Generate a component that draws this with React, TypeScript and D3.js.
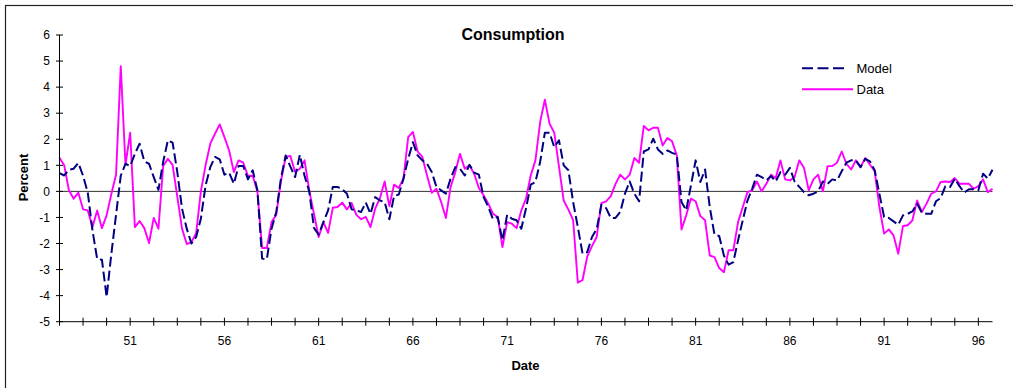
import React from "react";
import * as d3 from "d3";

const modelValues: number[] = [
  0.70, 0.61, 0.83, 0.87, 1.09, 0.6, -0.05, -1.5, -2.6, -2.62,
  -4.05, -2.4, -0.9, 0.6, 1.06, 0.97, 1.44, 1.83, 1.15, 1.06,
  0.55, 0.06, 1.13, 1.96, 1.87, 0.74, -0.66, -1.43, -2.0, -1.75,
  -1.05, 0.23, 0.93, 1.32, 1.23, 0.64, 0.72, 0.29, 0.97, 0.97,
  0.46, 0.81, 0.04, -2.58, -2.6, -1.43, -0.79, 0.5, 1.38, 0.95,
  0.55, 1.4, 0.6, 0.0, -1.4, -1.66, -1.18, -0.73, 0.17, 0.17,
  0.08, -0.09, -0.69, -0.73, -0.79, -0.43, -0.86, -0.22, -0.35, -0.41,
  -1.07, -0.18, -0.12, 0.49, 1.25, 1.89, 1.38, 1.19, 1.06, 0.74,
  0.17, 0.04, -0.09, 0.49, 0.93, 0.87, 0.61, 1.02, 0.72, 0.64,
  -0.22, -0.6, -1.07, -0.98, -1.88, -0.9, -1.05, -1.11, -1.43, -0.66,
  0.26, 0.36, 1.13, 2.25, 2.25, 1.7, 1.96, 1.0, 0.81, -0.41,
  -1.37, -2.39, -2.33, -1.75, -1.45, -0.51, -0.64, -1.02, -1.02, -0.79,
  -0.09, 0.38, -0.09, -0.38, 1.53, 1.61, 2.02, 1.61, 1.44, 1.57,
  1.48, 1.41, -0.41, -0.73, 0.23, 1.19, 0.36, 0.84, -0.6, -1.66,
  -1.71, -2.46, -2.81, -2.71, -1.88, -1.11, -0.35, 0.1, 0.64, 0.55,
  0.42, 0.59, 0.38, 0.74, 0.64, 0.9, 0.38, 0.17, -0.03, -0.15,
  -0.09, 0.0, 0.38, 0.29, 0.46, 0.42, 0.77, 1.1, 1.19, 1.19,
  0.93, 1.25, 1.15, 0.81, -0.1, -0.98, -1.02, -1.15, -1.28, -0.92,
  -0.86, -0.77, -0.47, -0.82, -0.86, -0.86, -0.38, -0.26, 0.2, 0.17,
  0.49, 0.2, -0.05, 0.08, 0.08, 0.04, 0.68, 0.49, 0.83,
];

const dataValues: number[] = [
  1.29, 1.0, 0.04, -0.28, -0.05, -0.69, -0.73, -1.37, -0.73, -1.41,
  -0.92, -0.1, 0.64, 4.8, 1.02, 2.25, -1.37, -1.14, -1.41, -1.98,
  -1.02, -1.43, 0.97, 1.25, 1.02, -0.2, -1.43, -2.02, -1.95, -1.6,
  0.0, 1.0, 1.83, 2.21, 2.57, 2.08, 1.57, 0.74, 1.19, 1.1,
  0.59, 0.6, 0.0, -2.17, -2.17, -1.18, -0.9, 0.4, 1.32, 1.36,
  0.74, 0.87, 1.19, 0.04, -0.86, -1.75, -1.18, -1.59, -0.63, -0.6,
  -0.43, -0.69, -0.45, -0.9, -1.07, -0.98, -1.37, -0.66, -0.26, 0.38,
  -0.56, 0.26, 0.13, 0.49, 2.08, 2.28, 1.53, 1.32, 0.61, -0.05,
  0.1, -0.41, -1.02, 0.17, 0.74, 1.44, 0.87, 1.0, 0.68, 0.13,
  -0.15, -0.47, -0.86, -0.98, -2.14, -1.18, -1.24, -1.41, -0.73, -0.28,
  0.61, 1.19, 2.66, 3.52, 2.6, 2.25, 0.95, -0.35, -0.7, -1.1,
  -3.5, -3.4, -2.5, -2.1, -1.75, -0.45, -0.38, -0.18, 0.29, 0.64,
  0.46, 0.64, 1.28, 1.1, 2.51, 2.34, 2.44, 2.44, 1.76, 2.05,
  1.92, 1.38, -1.46, -0.92, -0.28, -0.38, -0.95, -1.11, -2.46, -2.52,
  -2.94, -3.1, -2.26, -2.26, -1.18, -0.6, -0.03, 0.04, 0.38, 0.0,
  0.29, 0.64, 0.51, 1.19, 0.46, 0.42, 0.55, 1.19, 0.9, 0.04,
  0.46, 0.64, 0.0, 0.97, 0.97, 1.1, 1.53, 1.06, 0.84, 1.19,
  0.93, 1.28, 1.02, 0.77, -0.6, -1.62, -1.46, -1.69, -2.39, -1.33,
  -1.3, -1.11, -0.35, -0.79, -0.47, -0.09, 0.0, 0.36, 0.38, 0.36,
  0.51, 0.29, 0.29, 0.29, 0.1, 0.2, 0.46, -0.03, 0.1,
];

const xTickLabels: string[] = ["51", "56", "61", "66", "71", "76", "81", "86", "91", "96"];
const yTickValues: number[] = [-5, -4, -3, -2, -1, 0, 1, 2, 3, 4, 5, 6];
const seriesNames: string[] = ["Model", "Data"];

const FONT = "'Liberation Sans', Arial, Helvetica, sans-serif";

export default function App() {
  const W = 1013;
  const H = 388;
  const n = modelValues.length;
  const x = d3.scaleLinear().domain([0, n - 1]).range([59.5, 992.5]);
  const y = d3.scaleLinear().domain([-5, 6]).range([321.7, 35]);

  const line = d3
    .line<number>()
    .x((_, i) => x(i))
    .y((d) => y(d));

  const minorTicks = d3.range(0, n - 1, 5);
  const labelIdx = xTickLabels.map((_, k) => 15 + 20 * k);

  const [x0, x1] = x.range();
  const [yB, yT] = y.range();

  return (
    <svg
      width={W}
      height={H}
      style={{ position: "absolute", left: 0, top: 0, background: "#fff" }}
      fontFamily={FONT}
    >
      <rect x={5.5} y={5.5} width={1020} height={400} fill="#fff" stroke="#222" strokeWidth={1.2} />

      {/* zero line */}
      <line x1={x0} x2={x1} y1={y(0)} y2={y(0)} stroke="#333" strokeWidth={1} />

      {/* series */}
      <path d={line(dataValues) || ""} fill="none" stroke="#FF00FF" strokeWidth={1.9} strokeLinejoin="round" />
      <path
        d={line(modelValues) || ""}
        fill="none"
        stroke="#000080"
        strokeWidth={2}
        strokeDasharray="10,4"
        strokeLinejoin="round"
      />

      {/* axes */}
      <line x1={x0} x2={x0} y1={yT} y2={yB} stroke="#000" strokeWidth={1} />
      <line x1={x0} x2={x1} y1={yB} y2={yB} stroke="#000" strokeWidth={1} />
      {yTickValues.map((v) => (
        <g key={"y" + v}>
          <line x1={x0 - 3.5} x2={x0 + 3.5} y1={y(v)} y2={y(v)} stroke="#000" strokeWidth={1} />
          <text x={50} y={y(v) + 4.3} textAnchor="end" fontSize={12} fill="#000">
            {v}
          </text>
        </g>
      ))}
      {minorTicks.map((i) => (
        <line key={"xt" + i} x1={x(i)} x2={x(i)} y1={yB - 4} y2={yB + 4} stroke="#000" strokeWidth={1} />
      ))}
      {xTickLabels.map((lab, k) => (
        <text key={"xl" + lab} x={x(labelIdx[k])} y={345} textAnchor="middle" fontSize={12} fill="#000">
          {lab}
        </text>
      ))}

      {/* titles */}
      <text x={513} y={39.5} textAnchor="middle" fontSize={16} fontWeight="bold" fill="#000">
        Consumption
      </text>
      <text
        transform={`translate(28,177.5) rotate(-90)`}
        textAnchor="middle"
        fontSize={13}
        fontWeight="bold"
        fill="#000"
      >
        Percent
      </text>
      <text x={525.5} y={370} textAnchor="middle" fontSize={13} fontWeight="bold" fill="#000">
        Date
      </text>

      {/* legend */}
      <line x1={802} x2={848} y1={68.3} y2={68.3} stroke="#000080" strokeWidth={2} strokeDasharray="11,4.5" />
      <text x={856.5} y={72.8} fontSize={13} fill="#000">
        {seriesNames[0]}
      </text>
      <line x1={802} x2={853} y1={89.3} y2={89.3} stroke="#FF00FF" strokeWidth={1.9} />
      <text x={856.5} y={93.8} fontSize={13} fill="#000">
        {seriesNames[1]}
      </text>
    </svg>
  );
}
